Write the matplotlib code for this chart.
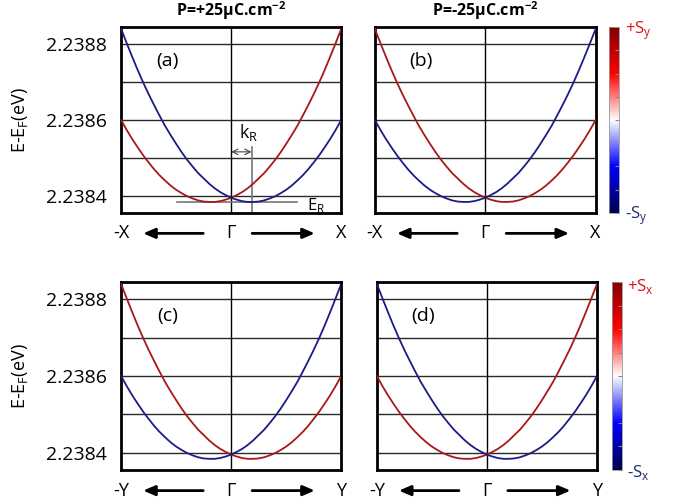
import numpy as np
import matplotlib
matplotlib.use('Agg')
from matplotlib import pyplot as plt
from matplotlib import cm, colors

plt.rcParams['font.family'] = ['Open Sans', 'DejaVu Sans']
plt.rcParams['mathtext.fontset'] = 'custom'
plt.rcParams['mathtext.rm'] = 'Open Sans'
plt.rcParams['mathtext.bf'] = 'Open Sans:bold'

# k along the path, -1 = -X (or -Y), 0 = Gamma, 1 = X (or Y)
k = [-1.00, -0.95, -0.90, -0.85, -0.80, -0.75, -0.70, -0.65, -0.60, -0.55,
     -0.50, -0.45, -0.40, -0.35, -0.30, -0.25, -0.20, -0.15, -0.10, -0.05,
     0.00, 0.05, 0.10, 0.15, 0.20, 0.25, 0.30, 0.35, 0.40, 0.45,
     0.50, 0.55, 0.60, 0.65, 0.70, 0.75, 0.80, 0.85, 0.90, 0.95, 1.00]
# band with its minimum on the -k side
e_left = [2.238600, 2.238574, 2.238550, 2.238528, 2.238507, 2.238488, 2.238470,
          2.238454, 2.238440, 2.238427, 2.238416, 2.238407, 2.238399, 2.238393,
          2.238388, 2.238385, 2.238384, 2.238384, 2.238386, 2.238390, 2.238395,
          2.238402, 2.238410, 2.238420, 2.238432, 2.238446, 2.238460, 2.238477,
          2.238495, 2.238515, 2.238537, 2.238560, 2.238584, 2.238611, 2.238639,
          2.238668, 2.238699, 2.238732, 2.238767, 2.238803, 2.238840]
# band with its minimum on the +k side (mirror image)
e_right = e_left[::-1]

k_r = 0.185
e_min = 2.238384
grid_e = [2.2384, 2.2385, 2.2386, 2.2387, 2.2388]
tick_e = [2.2384, 2.2386, 2.2388]
titles = ['P=+25μC.cm$^{\\mathbf{-2}}$', 'P=-25μC.cm$^{\\mathbf{-2}}$']

RED = '#a81818'
BLUE = '#1c1c86'

fig = plt.figure(figsize=(6.73, 5.01), dpi=100)

panels = [
    # label, rect, red band on left?, path, show y labels
    ('(a)', [0.180, 0.575, 0.327, 0.371], True, 'X', True),
    ('(b)', [0.557, 0.575, 0.328, 0.371], False, 'X', False),
    ('(c)', [0.180, 0.062, 0.327, 0.375], False, 'Y', True),
    ('(d)', [0.560, 0.062, 0.327, 0.375], True, 'Y', False),
]

axes = []
for lab, rect, red_left, path, ylab in panels:
    ax = fig.add_axes(rect)
    axes.append(ax)
    for e in grid_e:
        ax.axhline(e, color='#2a2a2a', lw=1.0, zorder=1)
    ax.axvline(0, color='black', lw=1.0, zorder=1)
    if red_left:
        ax.plot(k, e_left, color=RED, lw=1.3, zorder=3)
        ax.plot(k, e_right, color=BLUE, lw=1.3, zorder=3)
    else:
        ax.plot(k, e_right, color=RED, lw=1.3, zorder=3)
        ax.plot(k, e_left, color=BLUE, lw=1.3, zorder=3)
    ax.set_xlim(-1, 1)
    ax.set_ylim(2.238355, 2.238845)
    ax.set_xticks([])
    ax.set_yticks(tick_e)
    ax.tick_params(axis='y', length=0, pad=10, labelsize=14)
    if ylab:
        ax.set_yticklabels(['%.4f' % t for t in tick_e])
        ax.set_ylabel('E-E$_\\mathregular{F}$(eV)', fontsize=13, labelpad=12)
    else:
        ax.set_yticklabels([])
    for s in ax.spines.values():
        s.set_linewidth(2.0)
    ax.text(0.21, 0.82, lab, transform=ax.transAxes, fontsize=14,
            ha='center', va='center')
    # path labels under the panel
    ty = -0.11
    ax.text(0.0, ty, '-' + path, transform=ax.transAxes, fontsize=13,
            ha='center', va='center')
    ax.text(1.0, ty, path, transform=ax.transAxes, fontsize=13,
            ha='center', va='center')
    ax.text(0.5, ty, 'Γ', transform=ax.transAxes, fontsize=13,
            ha='center', va='center')
    arr = dict(arrowstyle='-|>,head_length=0.7,head_width=0.3', color='black',
               lw=2.0, shrinkA=0, shrinkB=0)
    ax.annotate('', xy=(0.1, ty), xytext=(0.373, ty), xycoords='axes fraction',
                arrowprops=arr, annotation_clip=False)
    ax.annotate('', xy=(0.88, ty), xytext=(0.595, ty), xycoords='axes fraction',
                arrowprops=arr, annotation_clip=False)

for ax, t in zip(axes[:2], titles):
    ax.set_title(t, fontsize=11.5, fontweight='bold', pad=8)

# Rashba annotations in (a)
ax = axes[0]
ax.plot([k_r, k_r], [2.238355, 2.238529], color='#777777', lw=1.2, zorder=2)
ax.plot([-0.49, 0.6], [e_min, e_min], color='#777777', lw=1.2, zorder=2)
ax.annotate('', xy=(0, 2.238516), xytext=(k_r, 2.238516),
            arrowprops=dict(arrowstyle='<->', color='#444444', lw=0.8,
                            shrinkA=0, shrinkB=0))
ax.text(0.16, 2.238566, 'k$_\\mathregular{R}$', fontsize=13, ha='center', va='center')
ax.text(0.77, 2.238374, 'E$_\\mathregular{R}$', fontsize=12, ha='center', va='center')

# colour bars
cb_rects = [[0.905, 0.575, 0.015, 0.371], [0.909, 0.062, 0.015, 0.375]]
cb_labels = [('+S$_\\mathregular{y}$', '-S$_\\mathregular{y}$'),
             ('+S$_\\mathregular{x}$', '-S$_\\mathregular{x}$')]
for rect, (top, bot) in zip(cb_rects, cb_labels):
    cax = fig.add_axes(rect)
    sm = cm.ScalarMappable(norm=colors.Normalize(-1, 1), cmap='seismic')
    cb = fig.colorbar(sm, cax=cax, ticks=np.linspace(-1, 1, 9))
    cb.outline.set_edgecolor('#999999')
    cb.outline.set_linewidth(0.6)
    cax.tick_params(length=3, direction='in', color='#888888', labelright=False)
    x0 = rect[0] + rect[2] + 0.008
    fig.text(x0, rect[1] + rect[3] - 0.008, top, color='#e01010',
             fontsize=12, ha='left', va='center')
    fig.text(x0, rect[1] - 0.005, bot, color='#1a2a6a',
             fontsize=12, ha='left', va='center')

fig.savefig('out.png', dpi=100)
